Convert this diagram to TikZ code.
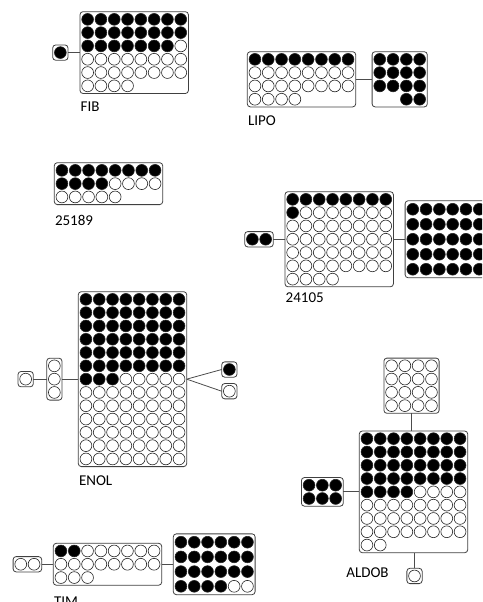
\documentclass[tikz,border=0pt]{standalone}
\usepackage{fontspec}
\setmainfont{Carlito}
\usetikzlibrary{positioning}

% circles of a plate, row by row: [row pitch]{node}{columns}{filled}{total}
\newcommand{\drawwells}[5][13.3]{%
  \foreach \i in {1,...,#5}{%
    \pgfmathtruncatemacro{\wx}{mod(\i-1,#3)}%
    \pgfmathtruncatemacro{\wy}{(\i-1)/#3}%
    \ifnum\i>#4 \def\wellfill{white}\else\def\wellfill{black}\fi
    \draw[well, fill=\wellfill] ([shift={(\wx*13.3+7.65,\wy*#1+#1/2+1)}]#2.north west) circle[radius=5.9pt];
  }%
}

\begin{document}
\begin{tikzpicture}[x=1pt, y=-1pt,
    % Define the style for the plates
    plate/.style 2 args={
        rectangle,
        draw=black!75,
        line width=0.8pt,
        rounded corners=3pt,
        inner sep=0pt,
        outer sep=0pt,
        minimum width=#1*13.3pt+2pt,
        minimum height=#2*13.3pt+2pt
    },
    % Define the style for the circles
    well/.style={
        draw=black!85,
        line width=0.6pt
    },
    % Define the style for the lines
    link/.style={
        draw=black!70,
        line width=0.8pt
    },
    % Define the style for the names
    platename/.style={
        inner sep=0pt,
        font=\fontsize{15}{18}\selectfont
    }
]
    \useasboundingbox (0,0) rectangle (482,602);
    \clip (0,0) rectangle (482,602);

    % FIB
    \node [plate={8}{6}, anchor=north west] (fib) at (80,11.7) {};
    \node [plate={1}{1}, left=12pt of fib] (fib-a) {};
    \node [platename, below right=8.5pt and 0.5pt of fib.south west] (fib-name) {FIB};
    \drawwells{fib}{8}{23}{44}
    \drawwells{fib-a}{1}{1}{1}
    \path [link] (fib-a) -- (fib);

    % LIPO
    \node [plate={8}{4}, anchor=north west] (lipo) at (247.3,51.7) {};
    \node [plate={4}{4}, right=16.4pt of lipo] (lipo-b) {};
    \node [platename, below right=8.5pt and 0.5pt of lipo.south west] (lipo-name) {LIPO};
    \drawwells{lipo}{8}{8}{28}
    \drawwells{lipo-b}{4}{12}{12}
    \foreach \wx in {2,3}
        \draw [well, fill=black] ([shift={(\wx*13.3+7.65,3*13.3+7.65)}]lipo-b.north west) circle[radius=5.9pt];
    \path [link] (lipo) -- (lipo-b);

    % 25189
    \node [plate={8}{3}, anchor=north west] (g25189) at (54.3,162.7) {};
    \node [platename, below right=10pt and 0.5pt of g25189.south west] (g25189-name) {25189};
    \drawwells{g25189}{8}{12}{21}

    % 24105
    \node [plate={8}{7}, anchor=north west] (g24105) at (285,191.7) {};
    \node [plate={2}{1}, left=11.7pt of g24105] (g24105-a) {};
    \node [plate={6}{5}, minimum height=77pt, right=11.7pt of g24105] (g24105-b) {};
    \node [platename, below right=6pt and 0.5pt of g24105.south west] (g24105-name) {24105};
    \drawwells{g24105}{8}{9}{52}
    \drawwells{g24105-a}{2}{2}{2}
    \drawwells[15]{g24105-b}{6}{30}{30}
    \path [link] (g24105-a) -- (g24105);
    \path [link] (g24105) -- (g24105-b);

    % ENOL
    \node [plate={8}{13}, anchor=north west] (enol) at (78.3,291.7) {};
    \node [plate={1}{3}, left=16.3pt of enol] (enol-b) {};
    \node [plate={1}{1}, left=13.4pt of enol-b] (enol-a) {};
    \node [plate={1}{1}, above right=2pt and 35pt of enol.east] (enol-c) {};
    \node [plate={1}{1}, below right=4.4pt and 35pt of enol.east] (enol-d) {};
    \node [platename, below right=8.5pt and 0.5pt of enol.south west] (enol-name) {ENOL};
    \drawwells{enol}{8}{51}{104}
    \drawwells{enol-b}{1}{0}{3}
    \drawwells{enol-a}{1}{0}{1}
    \drawwells{enol-c}{1}{1}{1}
    \drawwells{enol-d}{1}{0}{1}
    \path [link] (enol-a) -- (enol-b);
    \path [link] (enol-b) -- (enol);
    \path [link] (enol.east) -- (enol-c.west);
    \path [link] (enol.east) -- (enol-d.west);

    % ALDOB
    \node [plate={8}{9}, anchor=north west] (aldob) at (359.3,431) {};
    \node [plate={4}{4}, above=17.7pt of aldob, xshift=-2pt] (aldob-top) {};
    \node [plate={3}{2}, left=16pt of aldob] (aldob-left) {};
    \node [plate={1}{1}, below=15.6pt of aldob, xshift=1pt] (aldob-bot) {};
    \node [platename, left=18pt of aldob-bot, yshift=3pt] (aldob-name) {ALDOB};
    \drawwells{aldob}{8}{36}{66}
    \drawwells{aldob-top}{4}{0}{16}
    \drawwells{aldob-left}{3}{6}{6}
    \drawwells{aldob-bot}{1}{0}{1}
    \path [link] (aldob-top.south) -- (aldob-top.south |- aldob.north);
    \path [link] (aldob-left) -- (aldob);
    \path [link] (aldob-bot.north) -- (aldob-bot.north |- aldob.south);

    % TIM
    \node [plate={8}{3}, anchor=north west] (tim) at (53.3,543.3) {};
    \node [plate={2}{1}, left=11.6pt of tim] (tim-a) {};
    \node [plate={6}{4}, minimum height=60.8pt, right=11.6pt of tim] (tim-b) {};
    \node [platename, below right=11pt and 0.5pt of tim.south west] (tim-name) {TIM};
    \drawwells{tim}{8}{2}{19}
    \drawwells{tim-a}{2}{0}{2}
    \drawwells[14.7]{tim-b}{6}{22}{24}
    \path [link] (tim-a) -- (tim);
    \path [link] (tim) -- (tim-b);

\end{tikzpicture}
\end{document}
